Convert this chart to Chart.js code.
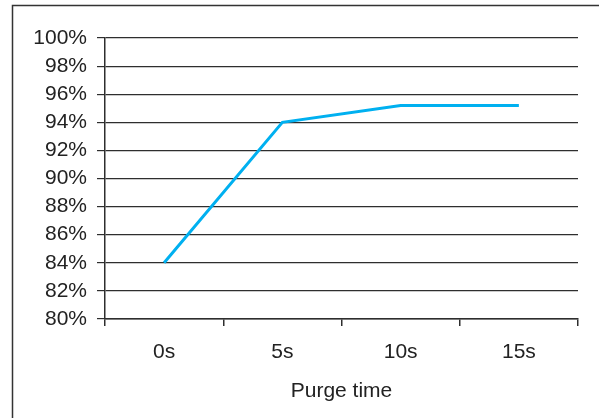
<!DOCTYPE html>
<html>
<head>
<meta charset="utf-8">
<script src="https://cdn.jsdelivr.net/npm/chart.js@4/dist/chart.umd.min.js"></script>
<style>
  html, body { margin: 0; padding: 0; background: #ffffff; }
  #wrap { position: relative; width: 599px; height: 418px; }
</style>
</head>
<body>
<div id="wrap"><canvas id="purgeChart" width="599" height="418"></canvas></div>
<script>
const purgeTimes = ['0s', '5s', '10s', '15s'];
const purityValues = [0.84, 0.94, 0.952, 0.952];
const axisTitle = 'Purge time';

const inkColor = '#222222';
const lineBlue = '#00B0F0';
const gridInk = '#2e2e2e';

// outer frame of the picture (only top and left edges show, the rest is cropped)
const framePlugin = {
  id: 'frame',
  beforeDraw(chart) {
    const { ctx } = chart;
    ctx.save();
    ctx.strokeStyle = '#333333';
    ctx.lineWidth = 1.5;
    ctx.strokeRect(12.5, 5.5, 700, 600);
    ctx.restore();
  }
};

const fontSpec = { family: '"Liberation Sans", Arial, sans-serif', size: 21 };

new Chart(document.getElementById('purgeChart'), {
  type: 'line',
  plugins: [framePlugin],
  data: {
    labels: purgeTimes,
    datasets: [{
      data: purityValues,
      borderColor: lineBlue,
      borderWidth: 3,
      pointRadius: 0,
      tension: 0,
      fill: false
    }]
  },
  options: {
    responsive: false,
    animation: false,
    devicePixelRatio: 1,
    layout: { padding: { left: 0, top: 38, right: 21, bottom: 0 } },
    plugins: {
      legend: { display: false },
      tooltip: { enabled: false }
    },
    scales: {
      x: {
        type: 'category',
        offset: true,
        grid: {
          offset: true,
          drawOnChartArea: false,
          drawTicks: true,
          tickLength: 7,
          color: gridInk,
          lineWidth: 1.5
        },
        border: { display: true, color: gridInk, width: 1.5 },
        ticks: { color: inkColor, font: fontSpec, padding: 14, maxRotation: 0, autoSkip: false },
        title: {
          display: true,
          text: axisTitle,
          color: inkColor,
          font: fontSpec,
          padding: { top: 4, bottom: 14 }
        },
        afterFit(scale) { scale.height = 99; }
      },
      y: {
        min: 0.8,
        max: 1.0,
        grid: {
          color: gridInk,
          lineWidth: 1.2,
          tickLength: 8
        },
        border: { display: true, color: gridInk, width: 1.5 },
        ticks: {
          stepSize: 0.02,
          autoSkip: false,
          color: inkColor,
          font: { ...fontSpec, lineHeight: 1 },
          padding: 10,
          callback: (value) => `${Math.round(value * 100)}%`
        },
        afterFit(scale) { scale.width = 105; }
      }
    }
  }
});
</script>
</body>
</html>
